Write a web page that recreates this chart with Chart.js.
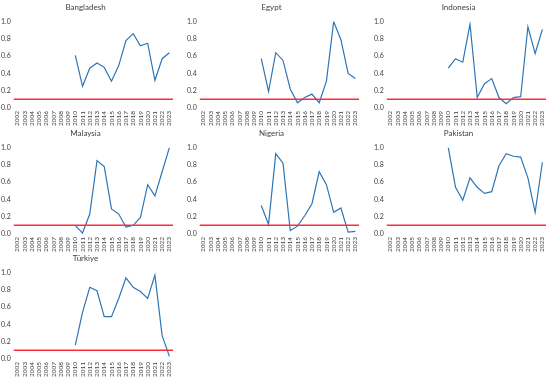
<!DOCTYPE html>
<html>
<head>
<meta charset="utf-8">
<script src="https://cdn.jsdelivr.net/npm/chart.js@4/dist/chart.umd.min.js"></script>
<style>
  body{margin:0;background:#fff;width:550px;height:379px;position:relative;overflow:hidden}
  .panel{position:absolute;width:186px;height:130px}
</style>
</head>
<body>
<div class="panel" style="left:-3px;top:0"><canvas id="c0"></canvas></div>
<div class="panel" style="left:183px;top:0"><canvas id="c1"></canvas></div>
<div class="panel" style="left:370px;top:0"><canvas id="c2"></canvas></div>
<div class="panel" style="left:-3px;top:126px"><canvas id="c3"></canvas></div>
<div class="panel" style="left:183px;top:126px"><canvas id="c4"></canvas></div>
<div class="panel" style="left:370px;top:126px"><canvas id="c5"></canvas></div>
<div class="panel" style="left:-3px;top:251px"><canvas id="c6"></canvas></div>
<script>
/*global Chart*/
const years=["2002","2003","2004","2005","2006","2007","2008","2009","2010","2011","2012","2013","2014","2015","2016","2017","2018","2019","2020","2021","2022","2023"]
const countries=["Bangladesh","Egypt","Indonesia","Malaysia","Nigeria","Pakistan","Türkiye"]
const threshold=0.1
const pre=[null,null,null,null,null,null,null,null]
const bangladesh=pre.concat([0.61,0.25,0.46,0.52,0.47,0.31,0.49,0.78,0.86,0.72,0.75,0.32,0.57,0.64])
const egypt=pre.concat([0.57,0.19,0.64,0.55,0.22,0.06,0.12,0.16,0.06,0.31,1.0,0.79,0.40,0.34])
const indonesia=pre.concat([0.46,0.57,0.53,0.97,0.12,0.28,0.34,0.12,0.05,0.12,0.13,0.94,0.63,0.91])
const malaysia=pre.concat([0.10,0.01,0.23,0.85,0.78,0.29,0.23,0.08,0.10,0.19,0.57,0.44,0.72,1.0])
const nigeria=pre.concat([0.33,0.11,0.93,0.82,0.04,0.09,0.21,0.35,0.72,0.57,0.25,0.30,0.02,0.03])
const pakistan=pre.concat([1.0,0.54,0.39,0.65,0.54,0.47,0.49,0.79,0.93,0.90,0.89,0.65,0.25,0.83])
const turkiye=pre.concat([0.16,0.54,0.83,0.79,0.49,0.49,0.70,0.94,0.83,0.78,0.70,0.97,0.27,0.03])
const series=[bangladesh,egypt,indonesia,malaysia,nigeria,pakistan,turkiye]

const fontName="Lato, 'Noto Sans', sans-serif"

// horizontal threshold line across the whole plot area
const seuilPlugin={
    id:"seuil",
    afterDatasetsDraw(chart){
        const ctx=chart.ctx
        const area=chart.chartArea
        const y=chart.scales.y.getPixelForValue(threshold)
        ctx.save()
        ctx.strokeStyle="#ff2b3c"
        ctx.lineWidth=1.5
        ctx.beginPath()
        ctx.moveTo(area.left,y)
        ctx.lineTo(area.right,y)
        ctx.stroke()
        ctx.restore()
    }
}

for(let i=0;i<countries.length;i++){
    const canvas=document.querySelector("#c"+i)
    canvas.width=186
    canvas.height=130
    const data={
        labels:years,
        datasets:[{
            label:countries[i],
            data:series[i],
            borderColor:"#2e75b6",
            borderWidth:1.2,
            pointRadius:0,
            tension:0,
            spanGaps:false
        }]
    }
    const config={
        type:"line",
        data:data,
        plugins:[seuilPlugin],
        options:{
            responsive:false,
            animation:false,
            devicePixelRatio:1,
            layout:{padding:{left:1,right:10,top:1,bottom:1}},
            plugins:{
                legend:{display:false},
                tooltip:{enabled:false},
                title:{
                    display:true,
                    text:countries[i],
                    color:"#404040",
                    font:{family:fontName,size:8,weight:"normal"},
                    padding:{top:2,bottom:9}
                }
            },
            scales:{
                x:{
                    offset:true,
                    grid:{display:false,drawTicks:false},
                    border:{display:false},
                    ticks:{
                        color:"#404040",
                        font:{family:fontName,size:6.5},
                        minRotation:90,
                        maxRotation:90,
                        autoSkip:false,
                        padding:3
                    }
                },
                y:{
                    min:0,
                    max:1,
                    grid:{display:false,drawTicks:false},
                    border:{display:false},
                    ticks:{
                        stepSize:0.2,
                        color:"#404040",
                        font:{family:fontName,size:7},
                        padding:3,
                        callback:(v)=>v.toFixed(1)
                    }
                }
            }
        }
    }
    new Chart(canvas,config)
}
</script>
</body>
</html>
